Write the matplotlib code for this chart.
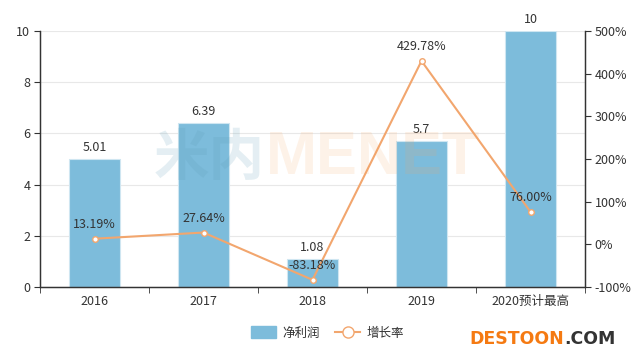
import matplotlib
import matplotlib.pyplot as plt
from matplotlib.lines import Line2D
from matplotlib.patches import Patch

matplotlib.use("Agg")
plt.rcParams["font.family"] = ["Noto Sans CJK SC", "DejaVu Sans"]

categories = ["2016", "2017", "2018", "2019", "2020预计最高"]
profit = [5.01, 6.39, 1.08, 5.7, 10]
profit_labels = ["5.01", "6.39", "1.08", "5.7", "10"]
growth = [13.19, 27.64, -83.18, 429.78, 76.00]
growth_labels = ["13.19%", "27.64%", "-83.18%", "429.78%", "76.00%"]

BAR_COLOR = "#7dbcdb"
LINE_COLOR = "#f2a66e"
TEXT_COLOR = "#333333"
AXIS_COLOR = "#333333"

fig = plt.figure(figsize=(6.36, 3.61), dpi=100)
ax = fig.add_axes([40 / 636, 1 - 287 / 361, 545 / 636, 256 / 361])
ax2 = ax.twinx()

x = list(range(len(categories)))

ax.bar(x, profit, width=0.46, color=BAR_COLOR, edgecolor="#cfe6f1", linewidth=0.8, zorder=2)
for xi, v, lab in zip(x, profit, profit_labels):
    ax.text(xi, v + 0.2, lab, ha="center", va="bottom", fontsize=9, color=TEXT_COLOR, zorder=5)

ax.set_xlim(-0.5, len(categories) - 0.5)
ax.set_ylim(0, 10)
ax.set_yticks([0, 2, 4, 6, 8, 10])
ax.grid(axis="y", color="#e8e8e8", linewidth=0.8, zorder=0)
ax.set_axisbelow(True)

ax.set_xticks(x)
ax.set_xticklabels(categories)
ax.set_xticks([i - 0.5 for i in range(len(categories) + 1)], minor=True)
ax.tick_params(axis="x", which="major", length=0, labelsize=9, labelcolor=TEXT_COLOR, pad=6)
ax.tick_params(axis="x", which="minor", length=4, color=AXIS_COLOR)
ax.tick_params(axis="y", length=4, color=AXIS_COLOR, labelsize=9, labelcolor=TEXT_COLOR, pad=3)

ax2.plot(x, growth, color=LINE_COLOR, linewidth=1.5, marker="o", markersize=4,
         markerfacecolor="white", markeredgecolor=LINE_COLOR, markeredgewidth=1, zorder=4)
for xi, v, lab in zip(x, growth, growth_labels):
    ax2.text(xi, v + 18, lab, ha="center", va="bottom", fontsize=9, color=TEXT_COLOR, zorder=6)
ax2.set_ylim(-100, 500)
ax2.set_yticks([-100, 0, 100, 200, 300, 400, 500])
ax2.set_yticklabels([f"{t}%" for t in range(-100, 501, 100)])
ax2.tick_params(axis="y", length=4, color=AXIS_COLOR, labelsize=9, labelcolor=TEXT_COLOR, pad=3)

for a in (ax, ax2):
    a.spines["top"].set_visible(False)
    for s in ("left", "right", "bottom"):
        a.spines[s].set_color(AXIS_COLOR)
        a.spines[s].set_linewidth(0.9)
    a.patch.set_visible(False)

# watermark, drawn faintly over the plot
fig.text(265 / 636, 1 - 159 / 361, "米内", fontsize=40, fontweight="bold",
         color="#5a9ab5", alpha=0.16, ha="right", va="center", zorder=10)
fig.text(266 / 636, 1 - 159 / 361, "MENET", fontsize=44, fontweight="bold",
         family="Liberation Sans", color="#f7a35c", alpha=0.14, ha="left", va="center",
         zorder=10)

handles = [
    Patch(facecolor=BAR_COLOR, edgecolor=BAR_COLOR, label="净利润"),
    Line2D([0], [0], color=LINE_COLOR, linewidth=1.5, marker="o", markersize=8,
           markerfacecolor="white", markeredgecolor=LINE_COLOR, label="增长率"),
]
fig.legend(handles=handles, loc="center", bbox_to_anchor=(0.515, 1 - 333 / 361), ncol=2,
           frameon=False, fontsize=9, labelcolor=TEXT_COLOR, handlelength=2.0,
           handleheight=1.1, columnspacing=1.2, handletextpad=0.5)

brand = fig.text(469 / 636, 1 - 339 / 361, "DESTOON", fontsize=12.5, fontweight="bold",
                 family="DejaVu Sans", color="#f57a12", ha="left", va="center")
fig.add_artist(plt.Annotation(".COM", xy=(1, 0.5), xycoords=brand, va="center", ha="left",
                              fontsize=12.5, fontweight="bold", family="DejaVu Sans",
                              color="#333333"))

fig.savefig("out.png", dpi=100)
